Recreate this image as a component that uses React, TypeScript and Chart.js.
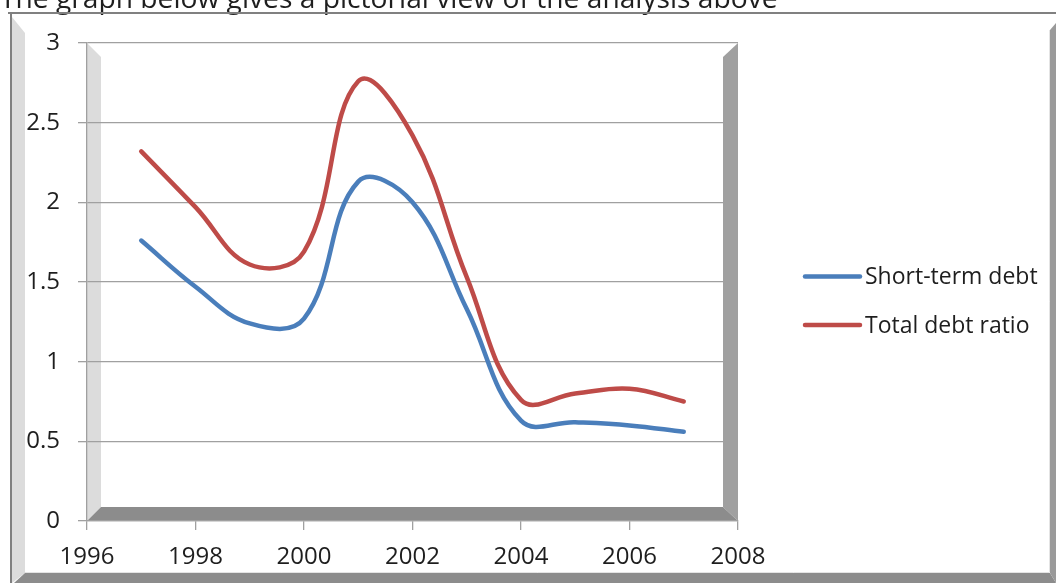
import React, { useEffect, useRef } from "react";
import { Chart, registerables } from "chart.js";

Chart.register(...registerables);

// ---- data ----
const years = [1997, 1998, 1999, 2000, 2001, 2002, 2003, 2004, 2005, 2006, 2007];
const shortTermDebt = [1.76, 1.47, 1.24, 1.27, 2.13, 2.0, 1.33, 0.63, 0.62, 0.6, 0.56];
const totalDebtRatio = [2.32, 1.97, 1.61, 1.69, 2.76, 2.42, 1.53, 0.76, 0.8, 0.83, 0.75];
const seriesNames = ["Short-term debt", "Total debt ratio"];
const seriesColors = ["#4A7EBB", "#BE4B48"];
const xMin = 1996;
const xMax = 2008;
const xStep = 2;
const yMin = 0;
const yMax = 3;
const yStep = 0.5;
const caption = "The graph below gives a pictorial view of the analysis above";

const W = 1056;
const H = 583;
const FONT = '"Open Sans", "DejaVu Sans", sans-serif';

const decorPlugin = {
  id: "excelDecor",
  beforeDraw(chart: any) {
    const { ctx } = chart;
    const { left, top, right, bottom } = chart.chartArea;
    ctx.save();
    ctx.fillStyle = "#ffffff";
    ctx.fillRect(0, 0, W, H);

    // caption (partly cut off at top)
    ctx.fillStyle = "#1e1e1e";
    ctx.font = `28.2px ${FONT}`;
    ctx.textBaseline = "alphabetic";
    ctx.textAlign = "left";
    ctx.fillText(caption, 0, 8);

    // outer frame
    ctx.fillStyle = "#dcdcdc";
    ctx.beginPath();
    ctx.moveTo(12, 17);
    ctx.lineTo(25, 33);
    ctx.lineTo(25, 573);
    ctx.lineTo(12, 583);
    ctx.closePath();
    ctx.fill();

    ctx.fillStyle = "#8c8c8c";
    ctx.beginPath();
    ctx.moveTo(14, 583);
    ctx.lineTo(25, 573);
    ctx.lineTo(1050, 573);
    ctx.lineTo(W, 583);
    ctx.closePath();
    ctx.fill();

    ctx.fillStyle = "#9a9a9a";
    ctx.beginPath();
    ctx.moveTo(1050, 30);
    ctx.lineTo(W, 23);
    ctx.lineTo(W, 583);
    ctx.lineTo(1050, 573);
    ctx.closePath();
    ctx.fill();

    ctx.strokeStyle = "#e4e4e4";
    ctx.lineWidth = 1;
    ctx.beginPath();
    ctx.moveTo(25, 572.5);
    ctx.lineTo(1049.5, 572.5);
    ctx.lineTo(1049.5, 30);
    ctx.stroke();

    ctx.strokeStyle = "#808080";
    ctx.lineWidth = 2;
    ctx.beginPath();
    ctx.moveTo(8, 13);
    ctx.lineTo(W, 13);
    ctx.stroke();
    ctx.beginPath();
    ctx.moveTo(11, 13);
    ctx.lineTo(11, H);
    ctx.stroke();

    // 3D walls of the plot area
    const d = 14;
    ctx.fillStyle = "#dcdcdc";
    ctx.beginPath();
    ctx.moveTo(left, top);
    ctx.lineTo(left + d, top + d);
    ctx.lineTo(left + d, bottom - d);
    ctx.lineTo(left, bottom);
    ctx.closePath();
    ctx.fill();

    ctx.fillStyle = "#a0a0a0";
    ctx.beginPath();
    ctx.moveTo(right - d - 1, top + d);
    ctx.lineTo(right, top);
    ctx.lineTo(right, bottom);
    ctx.lineTo(right - d - 1, bottom - d);
    ctx.closePath();
    ctx.fill();

    ctx.fillStyle = "#8c8c8c";
    ctx.beginPath();
    ctx.moveTo(left, bottom);
    ctx.lineTo(left + d, bottom - d);
    ctx.lineTo(right - d - 1, bottom - d);
    ctx.lineTo(right, bottom);
    ctx.closePath();
    ctx.fill();
    ctx.restore();
  },
  afterDraw(chart: any) {
    const { ctx } = chart;
    ctx.save();
    const x0 = 805;
    const x1 = 860;
    const ys = [276.5, 325];
    ctx.font = `23px ${FONT}`;
    ctx.textBaseline = "middle";
    ctx.textAlign = "left";
    seriesNames.forEach((name, i) => {
      ctx.strokeStyle = seriesColors[i];
      ctx.lineWidth = 4.5;
      ctx.lineCap = "round";
      ctx.beginPath();
      ctx.moveTo(x0, ys[i]);
      ctx.lineTo(x1, ys[i]);
      ctx.stroke();
      ctx.fillStyle = "#1e1e1e";
      ctx.fillText(name, 865, ys[i] + 1);
    });
    ctx.restore();
  },
};

export default function App() {
  const ref = useRef<HTMLCanvasElement | null>(null);
  useEffect(() => {
    if (!ref.current) return;
    const toPoints = (vals: number[]) => years.map((yr, i) => ({ x: yr, y: vals[i] }));
    const ds = (i: number, vals: number[]) => ({
      label: seriesNames[i],
      data: toPoints(vals),
      borderColor: seriesColors[i],
      backgroundColor: seriesColors[i],
      borderWidth: 4.5,
      pointRadius: 0,
      tension: 0.4,
      borderCapStyle: "round" as const,
      borderJoinStyle: "round" as const,
    });
    const chart = new Chart(ref.current, {
      type: "line",
      data: { datasets: [ds(0, shortTermDebt), ds(1, totalDebtRatio)] },
      options: {
        responsive: false,
        animation: false,
        devicePixelRatio: 1,
        layout: { padding: { top: 43, right: 318, bottom: 0, left: 0 } },
        plugins: { legend: { display: false }, tooltip: { enabled: false } },
        scales: {
          x: {
            type: "linear",
            min: xMin,
            max: xMax,
            afterFit: (s: any) => {
              s.height = 62;
            },
            ticks: {
              stepSize: xStep,
              color: "#1e1e1e",
              font: { family: FONT, size: 24 },
              padding: 13,
              callback: (v: any) => String(v),
              maxRotation: 0,
            },
            grid: { drawOnChartArea: false, drawTicks: true, tickLength: 9, color: "#a0a0a0", lineWidth: 1.3 },
            border: { display: true, color: "#a0a0a0", width: 1.3 },
          },
          y: {
            min: yMin,
            max: yMax,
            afterFit: (s: any) => {
              s.width = 87;
            },
            ticks: {
              stepSize: yStep,
              color: "#1e1e1e",
              font: { family: FONT, size: 24 },
              padding: 18,
              callback: (v: any) => String(Number(v)),
            },
            grid: { tickLength: 9, color: "#a0a0a0", lineWidth: 1.3 },
            border: { display: true, color: "#a0a0a0", width: 1.3 },
          },
        },
      },
      plugins: [decorPlugin],
    });
    return () => chart.destroy();
  }, []);
  return (
    <div style={{ position: "absolute", left: 0, top: 0, width: W, height: H }}>
      <canvas ref={ref} width={W} height={H} style={{ display: "block" }} />
    </div>
  );
}
